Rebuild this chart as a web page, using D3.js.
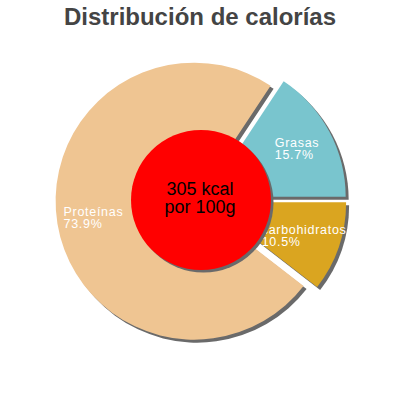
<!DOCTYPE html>
<html><head><meta charset="utf-8">
<script src="https://cdn.jsdelivr.net/npm/d3@7"></script>
<style>html,body{margin:0;padding:0;background:#fff;}svg{display:block;}</style>
</head><body>
<svg id="c" width="400" height="400"></svg>
<script>
const title = "Distribución de calorías";
const categories = ["Grasas", "carbohidratos", "Proteínas"];
const values = [15.7, 10.5, 73.9];
const valueLabels = ["15.7%", "10.5%", "73.9%"];
const colors = ["#79c5ce", "#daa520", "#efc592"];
const centerLines = ["305 kcal", "por 100g"];

const svg = d3.select("#c");
const cx = 201, cy = 200, R = 138.5, margin = 7, innerR = 70;
const total = d3.sum(values);
const start = Math.PI / 2 - 2 * Math.PI * values[0] / total;

svg.append("text").attr("x", 200).attr("y", 25).attr("text-anchor", "middle")
  .attr("font-family", "Liberation Sans, Arial, sans-serif").attr("font-weight", "bold")
  .attr("font-size", 24).attr("fill", "#444").text(title);

const pie = d3.pie().sort(null).value(d => d).startAngle(start).endAngle(start + 2 * Math.PI);
const arcs = pie(values);
const arc = d3.arc().innerRadius(0).outerRadius(R);
const off = d => {
  const a = (d.startAngle + d.endAngle) / 2;
  return [margin * Math.sin(a), -margin * Math.cos(a)];
};

const g = svg.append("g").attr("transform", `translate(${cx},${cy})`);
g.selectAll("path.sh").data(arcs).enter().append("path")
  .attr("d", arc).attr("fill", "#6a6a6a")
  .attr("transform", d => { const o = off(d); return `translate(${o[0] + 3},${o[1] + 3})`; });
g.selectAll("path.sl").data(arcs).enter().append("path")
  .attr("d", arc).attr("fill", (d, i) => colors[i])
  .attr("transform", d => { const o = off(d); return `translate(${o[0]},${o[1]})`; });

const labR = 102;
arcs.forEach((d, i) => {
  const a = (d.startAngle + d.endAngle) / 2;
  const o = off(d);
  const lx = o[0] + labR * Math.sin(a), ly = o[1] - labR * Math.cos(a);
  const t = g.append("text").attr("fill", "#fff")
    .attr("font-family", "Liberation Sans, Arial, sans-serif").attr("font-size", 12.5)
    .attr("letter-spacing", 0.7);
  const t1 = t.append("tspan").attr("y", ly - 1.5).text(categories[i]);
  const t2 = t.append("tspan").attr("y", ly + 10.5).text(valueLabels[i]);
  const w = Math.max(t1.node().getComputedTextLength(), t2.node().getComputedTextLength());
  t1.attr("x", lx - w / 2); t2.attr("x", lx - w / 2);
});

g.append("circle").attr("cx", 2.5).attr("cy", 2.5).attr("r", innerR).attr("fill", "#6a6a6a");
g.append("circle").attr("r", innerR).attr("fill", "#ff0000");
centerLines.forEach((s, i) => {
  g.append("text").attr("x", -1).attr("y", -5 + i * 18).attr("text-anchor", "middle")
    .attr("font-family", "Liberation Sans, Arial, sans-serif").attr("font-size", 18)
    .attr("fill", "#000").text(s);
});
</script>
</body></html>
